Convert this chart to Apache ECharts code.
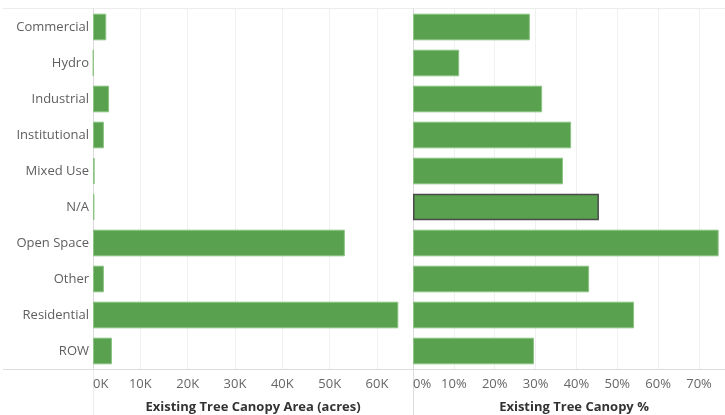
<!DOCTYPE html>
<html>
<head>
<meta charset="utf-8">
<script src="https://cdn.jsdelivr.net/npm/echarts@6/dist/echarts.min.js"></script>
<style>html,body{margin:0;padding:0;background:#fff;}#c{width:725px;height:415px;}</style>
</head>
<body>
<div id="c"></div>
<script>
const categories = ['Commercial','Hydro','Industrial','Institutional','Mixed Use','N/A','Open Space','Other','Residential','ROW'];
const canopyArea = [2800, 100, 3400, 2300, 350, 300, 53200, 2300, 64500, 4000];
const canopyPct = [28.6, 11.3, 31.6, 38.7, 36.7, 45.5, 74.8, 43.1, 54.1, 29.6];
const highlighted = 'N/A';

const FONT = 'Open Sans';
const TFONT = 'Open Sans';
const GREEN = '#59a14f';
const chart = echarts.init(document.getElementById('c'), null, {renderer: 'canvas'});

const G1 = {left: 93, top: 9, width: 320, height: 360};
const G2 = {left: 413, top: 9, width: 322, height: 360};

const lineStyle = {stroke: '#dcdcdc', lineWidth: 1};
chart.setOption({
  animation: false,
  textStyle: {fontFamily: FONT},
  grid: [
    {left: G1.left, top: G1.top, width: G1.width, height: G1.height, containLabel: false, outerBoundsMode: 'none'},
    {left: G2.left, top: G2.top, width: G2.width, height: G2.height, containLabel: false, outerBoundsMode: 'none'}
  ],
  xAxis: [
    {
      type: 'value', gridIndex: 0, min: 0, max: 67600, interval: 10000,
      name: 'Existing Tree Canopy Area (acres)', nameLocation: 'middle', nameGap: 32,
      nameTextStyle: {fontFamily: TFONT, fontSize: 13, fontWeight: 'bold', color: '#333'},
      axisLine: {show: false}, axisTick: {show: false},
      axisLabel: {color: '#666', fontSize: 13, fontFamily: FONT, margin: 9, showMaxLabel: false,
        alignMinLabel: 'left', formatter: v => (v / 1000) + 'K'},
      splitLine: {show: true, lineStyle: {color: '#f0f0f0', width: 1}}
    },
    {
      type: 'value', gridIndex: 1, min: 0, max: 78.8, interval: 10,
      name: 'Existing Tree Canopy %', nameLocation: 'middle', nameGap: 32,
      nameTextStyle: {fontFamily: TFONT, fontSize: 13, fontWeight: 'bold', color: '#333'},
      axisLine: {show: false}, axisTick: {show: false},
      axisLabel: {color: '#666', fontSize: 13, fontFamily: FONT, margin: 9, showMaxLabel: false,
        alignMinLabel: 'left', formatter: v => v + '%'},
      splitLine: {show: true, lineStyle: {color: '#f0f0f0', width: 1}}
    }
  ],
  yAxis: [
    {
      type: 'category', gridIndex: 0, data: categories, inverse: true,
      axisLine: {show: true, lineStyle: {color: '#dcdcdc'}}, axisTick: {show: false},
      axisLabel: {color: '#5e5e5e', fontSize: 13, fontFamily: FONT, margin: 4}
    },
    {
      type: 'category', gridIndex: 1, data: categories, inverse: true,
      axisLine: {show: true, lineStyle: {color: '#dcdcdc'}}, axisTick: {show: false},
      axisLabel: {show: false}
    }
  ],
  series: [
    {
      type: 'bar', xAxisIndex: 0, yAxisIndex: 0, data: canopyArea,
      barCategoryGap: '26%',
      itemStyle: {color: GREEN, borderColor: '#8cc483', borderWidth: 1}
    },
    {
      type: 'bar', xAxisIndex: 1, yAxisIndex: 1,
      data: canopyPct.map((v, i) => categories[i] === highlighted
        ? {value: v, itemStyle: {borderColor: '#4a4a4a', borderWidth: 1.5}}
        : v),
      barCategoryGap: '26%',
      itemStyle: {color: GREEN, borderColor: '#8cc483', borderWidth: 1}
    }
  ],
  graphic: [
    {type: 'line', shape: {x1: 3, y1: 8.5, x2: 725, y2: 8.5}, style: {stroke: '#ececec', lineWidth: 1}, silent: true},
    {type: 'line', shape: {x1: 3, y1: 369.5, x2: 725, y2: 369.5}, style: lineStyle, silent: true},
    {type: 'line', shape: {x1: 93.5, y1: 369, x2: 93.5, y2: 415}, style: {stroke: '#ececec', lineWidth: 1}, silent: true},
    {type: 'line', shape: {x1: 413.5, y1: 369, x2: 413.5, y2: 415}, style: lineStyle, silent: true}
  ]
});
</script>
</body>
</html>
